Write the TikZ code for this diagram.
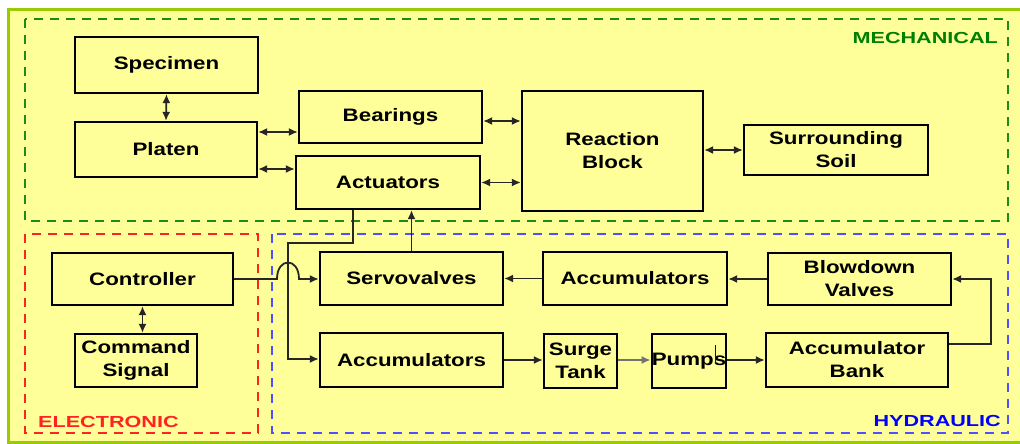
\documentclass[tikz,border=0pt]{standalone}
\usepackage{fontspec}
\setmainfont{Liberation Sans}
\newfontfamily\labfont{Liberation Sans}[FakeStretch=1.24]
\newfontfamily\regfont{Liberation Sans}[FakeStretch=1.35]
\usetikzlibrary{arrows.meta}
\definecolor{panelyellow}{HTML}{FFFF99}
\definecolor{panelborder}{HTML}{99CC00}
\definecolor{mechgreen}{HTML}{1A8C1A}
\definecolor{mechtext}{HTML}{008000}
\definecolor{elecred}{HTML}{FF2222}
\definecolor{hydblue}{HTML}{5050FF}
\definecolor{hydtext}{HTML}{0000FF}
\begin{document}
\begin{tikzpicture}[x=1pt,y=-1pt,
  blk/.style={draw=black, line width=2.2pt, fill=panelyellow, inner sep=0pt,
    align=center, font=\labfont\bfseries\fontsize{18}{23}\selectfont},
  conn/.style={line width=1.8pt, draw=black!85},
  tip/.style={-{Latex[length=9pt,width=8pt]}},
  dtip/.style={{Latex[length=9pt,width=8pt]}-{Latex[length=9pt,width=8pt]}},
  region/.style={line width=2pt, dash pattern=on 9pt off 7pt},
  reglabel/.style={inner sep=0pt, font=\regfont\bfseries\fontsize{16}{19}\selectfont}]
\useasboundingbox (0,0) rectangle (1020,444);
% panel
\fill[white] (0,0) rectangle (1020,444);
\draw[line width=3pt, draw=panelborder, fill=panelyellow] (8.5,9.5) rectangle (1030,442.5);
% regions
\draw[region, mechgreen] (25,19) rectangle (1008,221);
\draw[region, elecred] (25,234) rectangle (258,433);
\draw[region, hydblue] (272,234) rectangle (1008,433);
\node[reglabel, text=mechtext, anchor=base east] (lmech) at (998,44) {MECHANICAL};
\node[reglabel, text=elecred, anchor=base west] (lelec) at (38,427) {ELECTRONIC};
\node[reglabel, text=hydtext, anchor=base east] (lhyd) at (1001,426) {HYDRAULIC};
% mechanical boxes
\node[blk, minimum width=183pt, minimum height=56pt] (spec) at (166.5,65) {Specimen};
\node[blk, minimum width=182pt, minimum height=55pt] (platen) at (166,149.5) {Platen};
\node[blk, minimum width=183pt, minimum height=52pt] (bear) at (390.5,117) {Bearings};
\node[blk, minimum width=184pt, minimum height=53pt] (act) at (388,182.5) {Actuators};
\node[blk, minimum width=181pt, minimum height=120pt] (react) at (612.5,151) {Reaction\\Block};
\node[blk, minimum width=184pt, minimum height=50pt] (soil) at (836,150) {Surrounding\\Soil};
% electronic boxes
\node[blk, minimum width=181pt, minimum height=52pt] (ctrl) at (142.5,279) {Controller};
\node[blk, minimum width=122pt, minimum height=53pt] (cmd) at (136,360.5) {Command\\Signal};
% hydraulic boxes
\node[blk, minimum width=183pt, minimum height=53pt] (servo) at (411.5,278.5) {Servovalves};
\node[blk, minimum width=184pt, minimum height=53pt] (accT) at (635,278.5) {Accumulators};
\node[blk, minimum width=183pt, minimum height=52pt] (blow) at (859.5,279) {Blowdown\\Valves};
\node[blk, minimum width=183pt, minimum height=54pt] (accB) at (411.5,360) {Accumulators};
\node[blk, minimum width=73pt, minimum height=54pt] (surge) at (580.5,361) {Surge\\Tank};
\node[blk, minimum width=74pt, minimum height=54pt] (pumps) at (689,361) {Pumps};
\node[blk, minimum width=182pt, minimum height=54pt] (bank) at (857,360) {Accumulator\\Bank};
% mechanical connectors
\draw[conn, dtip] (spec.south) -- (platen.north);
\draw[conn, dtip] (platen.east |- 0,132) -- (bear.west |- 0,132);
\draw[conn, dtip] (platen.east |- 0,169) -- (act.west |- 0,169);
\draw[conn, dtip] (bear.east |- 0,121) -- (react.west |- 0,121);
\draw[conn, dtip] (act.east) -- (act.east -| react.west);
\draw[conn, dtip] (react.east |- soil.west) -- (soil.west);
% electronic connectors
\draw[conn, dtip] (ctrl.south) -- (ctrl.south |- cmd.north);
% actuator feedback line to lower accumulators
\coordinate (a1) at (353,243);
\coordinate (a2) at (288,243);
\coordinate (a3) at (288,359);
\draw[conn, tip] (act.south -| a1) -- (a1) -- (a2) -- (a3) -- (a3 -| accB.west);
% controller to servovalves with hop
\coordinate (h1) at (277,279);
\coordinate (h2) at (299,279);
\draw[conn, tip] (ctrl.east |- h1) -- (h1) .. controls (277,257) and (299,257) .. (h2) -- (h2 -| servo.west);
% hydraulic connectors
\draw[conn, tip] (servo.north) -- (servo.north |- act.south);
\draw[conn, tip] (blow.west) -- (blow.west -| accT.east);
\draw[conn, tip] (accT.west) -- (accT.west -| servo.east);
\draw[conn, tip] (accB.east) -- (accB.east -| surge.west);
\draw[conn, tip, draw=black!55] (surge.east |- 0,360) -- (pumps.west |- 0,360);
\draw[conn, tip] (pumps.east |- 0,360) -- (bank.west |- 0,360);
\coordinate (b1) at (991,344);
\coordinate (b2) at (991,279);
\draw[conn, tip] (bank.east |- b1) -- (b1) -- (b2) -- (blow.east);
% blue tick in pumps
\draw[line width=1pt, draw=blue!80!black] (715,345) -- (715,364);
\end{tikzpicture}
\end{document}
